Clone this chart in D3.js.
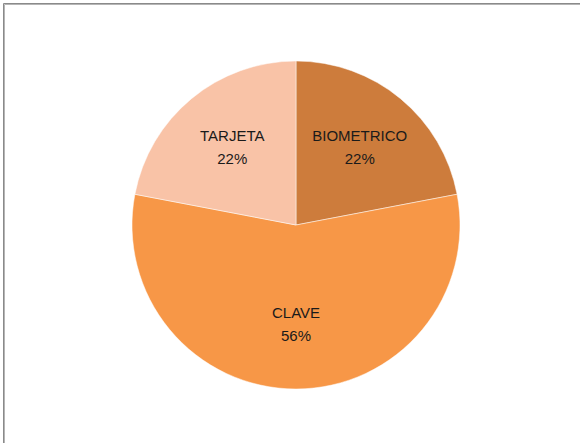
<!DOCTYPE html>
<html lang="es">
<head>
  <meta charset="UTF-8" />
  <title>Pie chart</title>
  <script src="https://cdn.jsdelivr.net/npm/d3@7/dist/d3.min.js"></script>
  <style>
    html, body { margin: 0; padding: 0; background: #fff; overflow: hidden; }
    svg { display: block; }
  </style>
</head>
<body>
  <script>
    // data
    const categories = ["BIOMETRICO", "CLAVE", "TARJETA"];
    const values = [22, 56, 22];
    const colors = ["#CD7C3C", "#F79747", "#F9C3A7"];

    const width = 580, height = 443;
    const cx = 296, cy = 225, radius = 164;

    const svg = d3.select("body").append("svg")
      .attr("width", width)
      .attr("height", height);

    // frame (top and left edges visible)
    svg.append("path")
      .attr("d", `M3.5,${height + 2} V3.5 H${width + 2}`)
      .attr("fill", "none")
      .attr("stroke", "#8a8a8a")
      .attr("stroke-width", 1);
    svg.append("path")
      .attr("d", `M4.5,${height + 2} V4.5 H${width + 2}`)
      .attr("fill", "none")
      .attr("stroke", "#b5b5b5")
      .attr("stroke-width", 1);

    const data = categories.map((c, i) => ({ name: c, value: values[i], color: colors[i] }));

    const pie = d3.pie().sort(null).value(d => d.value);
    const arcs = pie(data);

    const arc = d3.arc().innerRadius(0).outerRadius(radius);
    const labelArc = d3.arc().innerRadius(100).outerRadius(100);

    const g = svg.append("g").attr("transform", `translate(${cx},${cy})`);

    g.selectAll("path.slice")
      .data(arcs)
      .join("path")
      .attr("class", "slice")
      .attr("d", arc)
      .attr("fill", d => d.data.color)
      .attr("stroke", "#fff")
      .attr("stroke-width", 0.5);

    const total = d3.sum(values);
    const labels = g.selectAll("text.lbl")
      .data(arcs)
      .join("text")
      .attr("class", "lbl")
      .attr("transform", d => `translate(${labelArc.centroid(d)})`)
      .attr("text-anchor", "middle")
      .attr("font-family", "'Liberation Sans', Arial, sans-serif")
      .attr("font-size", "15px")
      .attr("fill", "#1a1a1a");

    labels.append("tspan")
      .attr("x", 0)
      .attr("dy", "-0.45em")
      .text(d => d.data.name);
    labels.append("tspan")
      .attr("x", 0)
      .attr("dy", "1.5em")
      .text(d => Math.round(d.data.value / total * 100) + "%");
  </script>
</body>
</html>
